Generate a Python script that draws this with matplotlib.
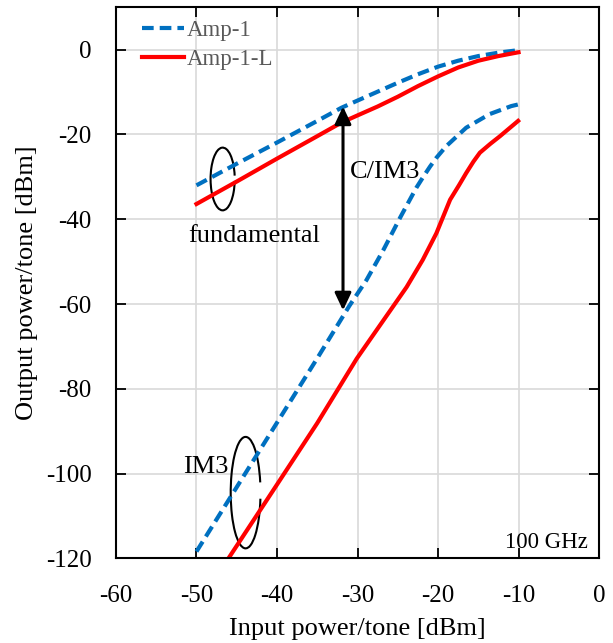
import matplotlib
matplotlib.use("Agg")
import matplotlib.pyplot as plt
from matplotlib.patches import Arc

plt.rcParams['font.family'] = ['Liberation Serif', 'DejaVu Serif']
plt.rcParams['axes.unicode_minus'] = False

# Fundamental curves
amp1_fund_x = [-50, -45, -40, -35, -32, -30, -27.5, -25, -22.5, -20, -17.5, -15, -12.5, -10]
amp1_fund_y = [-32.0, -26.9, -21.9, -16.8, -13.7, -12.0, -9.9, -7.8, -5.8, -4.0, -2.6, -1.5, -0.7, -0.1]
ampL_fund_x = [-50, -45, -40, -35, -32, -30, -27.5, -25, -22.5, -20, -17.5, -15, -12.5, -10]
ampL_fund_y = [-36.4, -31.1, -25.7, -20.4, -17.2, -15.5, -13.4, -11.1, -8.6, -6.3, -4.2, -2.6, -1.5, -0.6]

# IM3 curves
amp1_im3_x = [-50, -45, -40, -35, -31, -28.9, -26.8, -24.7, -22.7, -21.8, -21.0, -20.2, -19.0, -16.5, -13.6, -10.9, -10]
amp1_im3_y = [-118.4, -103.2, -88.0, -72.8, -60.4, -54.4, -47.3, -39.6, -32.6, -29.9, -27.6, -25.5, -22.8, -18.4, -15.2, -13.3, -12.9]
ampL_im3_x = [-46.3, -40, -35, -30.1, -26.8, -23.9, -21.9, -20.2, -18.5, -17.4, -16.5, -15.6, -14.8, -13.5, -12.3, -10.05]
ampL_im3_y = [-120.8, -102.6, -88.1, -72.9, -63.9, -56.0, -49.6, -43.3, -35.4, -32.0, -29.1, -26.4, -24.3, -22.2, -20.4, -16.8]

series_labels = ["Amp-1", "Amp-1-L"]
xticks = [-60, -50, -40, -30, -20, -10, 0]
yticks = [-120, -100, -80, -60, -40, -20, 0]

fig = plt.figure(figsize=(6.13, 6.43), dpi=100)
ax = fig.add_axes([0.1892, 0.1317, 0.788, 0.8569])

blue = '#0070C0'
red = '#FF0000'
dash = (0, (2.8, 1.45))
ax.plot(amp1_fund_x, amp1_fund_y, color=blue, lw=3, ls=dash, label=series_labels[0])
ax.plot(ampL_fund_x, ampL_fund_y, color=red, lw=3, label=series_labels[1])
ax.plot(amp1_im3_x, amp1_im3_y, color=blue, lw=3, ls=dash)
ax.plot(ampL_im3_x, ampL_im3_y, color=red, lw=3)

ax.set_xlim(-60, 0)
ax.set_ylim(-120, 10)
ax.set_xticks(xticks)
ax.set_yticks(yticks)
ax.tick_params(direction='in', top=True, right=True, labelsize=18, length=7, width=1.3)
ax.tick_params(axis='x', pad=19)
ax.tick_params(axis='y', pad=17.5)
ax.grid(True, color='#d9d9d9', lw=1.2)
ax.set_axisbelow(True)
for s in ax.spines.values():
    s.set_linewidth(1.5)

ax.set_xlabel('Input power/tone [dBm]', fontsize=19, labelpad=8)
ax.set_ylabel('Output power/tone [dBm]', fontsize=19, labelpad=6)

leg = ax.legend(loc='upper left', frameon=False, fontsize=16.5, handlelength=1.85,
                handletextpad=0.08, borderpad=0, borderaxespad=0, labelspacing=0.35,
                bbox_to_anchor=(0.054, 0.977))
for t in leg.get_texts():
    t.set_color('#595959')

# C/IM3 arrow
ax.annotate('', xy=(-31.8, -13.4), xytext=(-31.8, -61.5),
            arrowprops=dict(arrowstyle='<|-|>,head_length=0.7,head_width=0.33',
                            color='black', lw=2.2, mutation_scale=15,
                            shrinkA=0, shrinkB=0))
ax.text(-31.0, -30.3, 'C/IM3', fontsize=19, va='baseline', ha='left')
ax.text(-51.05, -45.3, 'fundamental', fontsize=19, va='baseline', ha='left')
ax.text(-51.7, -99.8, 'IM3', fontsize=19, va='baseline', ha='left')
ax.text(-1.35, -117.6, '100 GHz', fontsize=16.5, va='baseline', ha='right')

ax.add_patch(Arc((-46.75, -30.5), 3.0, 14.8, angle=0, theta1=28, theta2=343, color='black', lw=1.5))
ax.add_patch(Arc((-43.9, -104.5), 3.7, 26.3, angle=0, theta1=53, theta2=322, color='black', lw=1.5))

fig.savefig('out.png', dpi=100)
